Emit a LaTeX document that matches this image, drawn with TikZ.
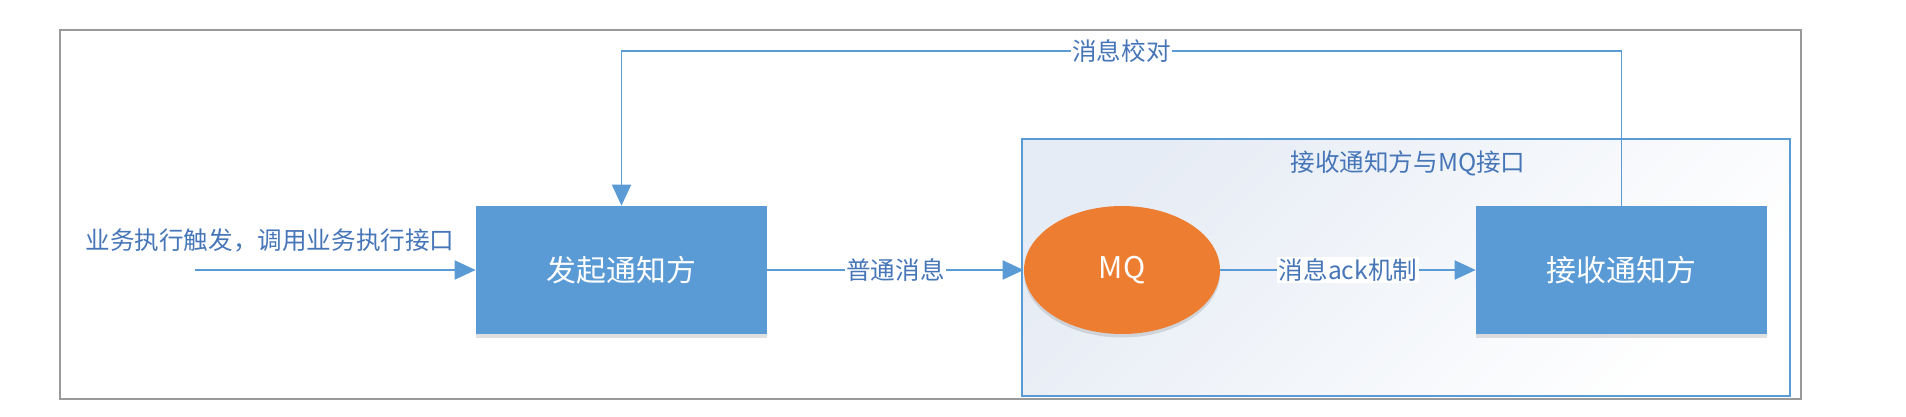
\documentclass[tikz,border=0pt]{standalone}
\usepackage{fontspec}
\setmainfont{Noto Sans CJK SC}
\usetikzlibrary{arrows.meta,shapes.geometric,shadows}
\definecolor{boxblue}{HTML}{5B9BD5}
\definecolor{mqorange}{HTML}{ED7D31}
\definecolor{textblue}{HTML}{4676B8}
\definecolor{framegray}{HTML}{9A9A9A}
\definecolor{panefill}{HTML}{E6ECF5}

\begin{document}
\begin{tikzpicture}[x=0.02cm,y=-0.02cm,
  party/.style={rectangle,fill=boxblue,text=white,minimum width=5.82cm,minimum height=2.56cm,
    font=\fontsize{17}{20}\selectfont,drop shadow={shadow xshift=0pt,shadow yshift=-2pt,opacity=0.25}},
  queue/.style={ellipse,fill=mqorange,text=white,minimum width=3.92cm,minimum height=2.56cm,
    font=\fontsize{17}{20}\selectfont,drop shadow={shadow xshift=0pt,shadow yshift=-2pt,opacity=0.25}},
  msg/.style={text=textblue,font=\fontsize{14}{17}\selectfont,inner sep=1pt},
  flow/.style={draw=boxblue,line width=1.1pt,-{Triangle[length=0.42cm,width=0.38cm]}}]
\useasboundingbox (0,0) rectangle (1906,416);
\draw[framegray,line width=0.85pt] (60,30) rectangle (1801,399);

\shade[draw=boxblue,line width=1.1pt,shading=axis,top color=panefill,bottom color=white,shading angle=45]
  (1022,139) rectangle (1790,396);
\node[msg] (paneltitle) at (1408,163) {接收通知方与MQ接口};

\node[party] (sender) at (621.5,270) {发起通知方};
\node[queue] (mq) at (1122,270) {MQ};
\node[party] (receiver) at (1621.5,270) {接收通知方};

\node[msg] (trigger) at (270,240) {业务执行触发，调用业务执行接口};
\coordinate (entry) at (195,270);
\coordinate (loop) at (621.5,51);

\draw[flow] (entry) -- (sender);
\draw[flow] (sender) -- node[msg,fill=white] {普通消息} (mq);
\draw[flow] (mq) -- node[msg,fill=white] {消息ack机制} (receiver);
\draw[flow] (receiver.north) |- node[msg,fill=white,pos=0.75] {消息校对} (loop) -- (sender.north);
\end{tikzpicture}
\end{document}
